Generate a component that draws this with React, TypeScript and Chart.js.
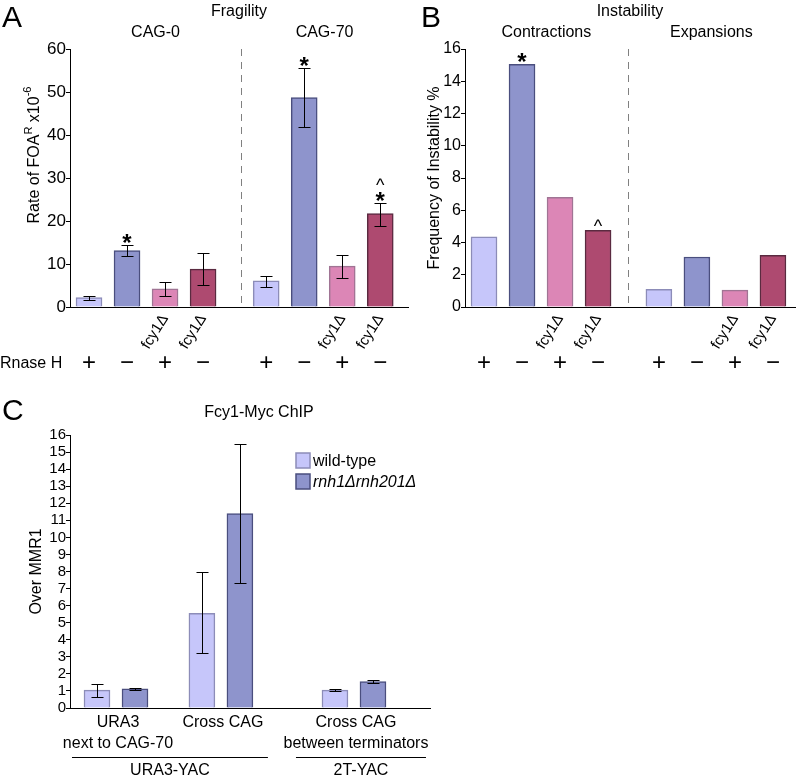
import React, { useEffect, useRef } from 'react';
import { Chart, registerables } from 'chart.js';

Chart.register(...registerables);

const FONT = '"Liberation Sans", Arial, Helvetica, sans-serif';

// ---------------- Panel A: Fragility ----------------
const fragilityGroups = ['CAG-0', 'CAG-70'];
const strainTags = ['', '', 'fcy1Δ', 'fcy1Δ'];
const rnaseHSigns = ['+', '−', '+', '−'];
const fragCag0 = [2.2, 13.1, 4.2, 8.8];
const fragCag0Low = [1.7, 11.8, 2.6, 5.1];
const fragCag0High = [2.6, 14.4, 5.8, 12.5];
const fragCag0Marks = ['', '*', '', ''];
const fragCag70 = [6.1, 48.7, 9.5, 21.7];
const fragCag70Low = [4.7, 41.8, 6.8, 18.9];
const fragCag70High = [7.2, 55.5, 12.0, 24.1];
const fragCag70Marks = ['', '*', '', '*^'];
const fragYTicks = { min: 0, max: 60, step: 10 };

// ---------------- Panel B: Instability ----------------
const instabilityGroups = ['Contractions', 'Expansions'];
const contractions = [4.35, 15.05, 6.8, 4.75];
const contractionMarks = ['', '*', '', '^'];
const expansions = [1.1, 3.1, 1.05, 3.2];
const expansionMarks = ['', '', '', ''];
const instYTicks = { min: 0, max: 16, step: 2 };

// ---------------- Panel C: Fcy1-Myc ChIP ----------------
const chipSites = [['URA3', 'next to CAG-70'], ['Cross CAG'], ['Cross CAG', 'between terminators']];
const chipYacs = ['URA3-YAC', '2T-YAC'];
const chipYacSites = [[0, 1], [2]];
const chipSeries = ['wild-type', 'rnh1Δrnh201Δ'];
const chipWildType = [1.05, 5.55, 1.05];
const chipWildTypeLow = [0.65, 3.2, 0.98];
const chipWildTypeHigh = [1.42, 7.95, 1.1];
const chipRnh = [1.12, 11.4, 1.55];
const chipRnhLow = [1.07, 7.3, 1.48];
const chipRnhHigh = [1.16, 15.45, 1.65];
const chipYTicks = { min: 0, max: 16, step: 1 };

// ---------------- styles / layout ----------------
const STRAIN_FILL = ['#c6c6fa', '#8e94cc', '#dc86b6', '#ae4a70'];
const STRAIN_EDGE = ['#8c8cb8', '#4a4e7e', '#a07494', '#5a2a40'];
const A_GROUP_STEP = 4.66;
const A_DIVIDER = 4.0;
const B_GROUP_STEP = 4.6;
const B_DIVIDER = 3.78;
const C_SITE_OFFSETS = [0, 2.76, 6.26];

function txt(ctx: any, s: string, x: number, y: number, size: number, align: string = 'center', o: any = {}) {
  ctx.save();
  ctx.font = `${o.italic ? 'italic ' : ''}${o.bold ? 'bold ' : ''}${size}px ${FONT}`;
  ctx.fillStyle = '#000';
  ctx.textAlign = align;
  ctx.textBaseline = o.baseline || 'alphabetic';
  ctx.translate(x, y);
  if (o.rotate) ctx.rotate(o.rotate);
  ctx.fillText(s, 0, 0);
  ctx.restore();
}

function richVertical(ctx: any, parts: any[], cx: number, cy: number) {
  ctx.save();
  ctx.translate(cx, cy);
  ctx.rotate(-Math.PI / 2);
  ctx.fillStyle = '#000';
  ctx.textBaseline = 'alphabetic';
  ctx.textAlign = 'left';
  let total = 0;
  const widths = parts.map((p) => {
    ctx.font = `${p.size}px ${FONT}`;
    const w = ctx.measureText(p.t).width;
    total += w;
    return w;
  });
  let x = -total / 2;
  const base = 0.36 * 16;
  parts.forEach((p, i) => {
    ctx.font = `${p.size}px ${FONT}`;
    ctx.fillText(p.t, x, base + (p.dy || 0));
    x += widths[i];
  });
  ctx.restore();
}

function dashedDivider(chart: any, value: number) {
  const ctx = chart.ctx;
  const x = Math.round(chart.scales.x.getPixelForValue(value)) + 0.5;
  ctx.save();
  ctx.strokeStyle = '#808080';
  ctx.lineWidth = 1;
  ctx.setLineDash([7, 6]);
  ctx.beginPath();
  ctx.moveTo(x, chart.chartArea.top);
  ctx.lineTo(x, chart.chartArea.bottom);
  ctx.stroke();
  ctx.restore();
}

const errorBarPlugin = {
  id: 'errorBars',
  afterDatasetsDraw(chart: any) {
    const ctx = chart.ctx;
    const ys = chart.scales.y;
    ctx.save();
    ctx.strokeStyle = '#000';
    ctx.lineWidth = 1;
    chart.data.datasets.forEach((ds: any, di: number) => {
      const meta = chart.getDatasetMeta(di);
      meta.data.forEach((bar: any, i: number) => {
        const cx = Math.round(bar.x) + 0.5;
        let top = bar.y;
        if (ds.errLow && ds.errHigh) {
          const yl = Math.round(ys.getPixelForValue(ds.errLow[i])) + 0.5;
          const yh = Math.round(ys.getPixelForValue(ds.errHigh[i])) + 0.5;
          ctx.beginPath();
          ctx.moveTo(cx, yl);
          ctx.lineTo(cx, yh);
          ctx.moveTo(cx - 6, yl);
          ctx.lineTo(cx + 6, yl);
          ctx.moveTo(cx - 6, yh);
          ctx.lineTo(cx + 6, yh);
          ctx.stroke();
          top = Math.min(top, yh);
        }
        const marks = (ds.marks && ds.marks[i]) || '';
        let cy = top - 8;
        for (const m of marks) {
          if (m === '*') {
            txt(ctx, '*', bar.x, cy + 0.56 * 24, 24, 'center', { bold: true });
            cy -= 14;
          } else {
            txt(ctx, '^', bar.x, cy + 0.53 * 18, 18, 'center');
            cy -= 12;
          }
        }
      });
    });
    ctx.restore();
  },
};

function baseOptions(o: any) {
  return {
    responsive: false,
    animation: false,
    devicePixelRatio: 1,
    events: [],
    layout: { padding: o.padding },
    plugins: { legend: { display: false }, tooltip: { enabled: false }, title: { display: false } },
    scales: {
      x: {
        type: 'linear',
        offset: false,
        bounds: 'ticks',
        min: o.xMin,
        max: o.xMax,
        ticks: { display: false },
        grid: { display: false, drawTicks: false, offset: false },
        border: { display: true, color: '#000', width: 1 },
        afterFit: (s: any) => {
          s.height = 0;
        },
      },
      y: {
        min: o.yTicks.min,
        max: o.yTicks.max,
        ticks: {
          stepSize: o.yTicks.step,
          autoSkip: false,
          color: '#000',
          padding: 0,
          font: { family: FONT, size: o.tickSize },
        },
        grid: { drawOnChartArea: false, drawTicks: true, tickLength: 4, color: '#000' },
        border: { display: true, color: '#000', width: 1 },
        afterFit: (s: any) => {
          s.width = o.yWidth;
        },
      },
    },
  };
}

function strainDatasets(groupVals: number[][], groupLow: number[][] | null, groupHigh: number[][] | null, groupMarks: string[][], step: number) {
  return strainTags.map((_, s) => ({
    data: groupVals.map((vals, g) => ({ x: g * step + s, y: vals[s] })),
    errLow: groupLow ? groupLow.map((v) => v[s]) : null,
    errHigh: groupHigh ? groupHigh.map((v) => v[s]) : null,
    marks: groupMarks.map((v) => v[s]),
    backgroundColor: STRAIN_FILL[s],
    borderColor: STRAIN_EDGE[s],
    borderWidth: 1.5,
    barThickness: 26,
    grouped: false,
  }));
}

function drawStrainRows(chart: any, step: number, signY: number) {
  const ctx = chart.ctx;
  const xs = chart.scales.x;
  [0, 1].forEach((g) => {
    strainTags.forEach((tag, s) => {
      const cx = xs.getPixelForValue(g * step + s);
      if (tag) txt(ctx, tag, cx, 316, 15, 'right', { baseline: 'middle', rotate: (-58 * Math.PI) / 180 });
      txt(ctx, rnaseHSigns[s], cx, signY, 24, 'center');
    });
  });
}

function buildA(canvas: HTMLCanvasElement) {
  const textPlugin = {
    id: 'panelAText',
    beforeDatasetsDraw(chart: any) {
      dashedDivider(chart, A_DIVIDER);
    },
    afterDraw(chart: any) {
      const ctx = chart.ctx;
      const xs = chart.scales.x;
      const area = chart.chartArea;
      txt(ctx, 'A', 2, 27, 30, 'left');
      txt(ctx, 'Fragility', (area.left + area.right) / 2, 16, 16);
      const div = xs.getPixelForValue(A_DIVIDER);
      txt(ctx, fragilityGroups[0], (area.left + div) / 2, 37, 16);
      txt(ctx, fragilityGroups[1], (div + area.right) / 2, 37, 16);
      richVertical(
        ctx,
        [
          { t: 'Rate of FOA', size: 16 },
          { t: 'R', size: 11, dy: -7 },
          { t: ' x10', size: 16 },
          { t: '-6', size: 11, dy: -8 },
        ],
        33,
        155
      );
      drawStrainRows(chart, A_GROUP_STEP, 370);
      txt(ctx, 'Rnase H', 0, 368, 16, 'left');
    },
  };
  return new Chart(canvas, {
    type: 'bar',
    data: {
      datasets: strainDatasets(
        [fragCag0, fragCag70],
        [fragCag0Low, fragCag70Low],
        [fragCag0High, fragCag70High],
        [fragCag0Marks, fragCag70Marks],
        A_GROUP_STEP
      ) as any,
    },
    options: baseOptions({
      padding: { left: 0, right: 2, top: 49, bottom: 68 },
      xMin: -0.5,
      xMax: 8.39,
      yTicks: fragYTicks,
      tickSize: 17,
      yWidth: 70,
    }) as any,
    plugins: [errorBarPlugin, textPlugin],
  });
}

function buildB(canvas: HTMLCanvasElement) {
  const textPlugin = {
    id: 'panelBText',
    beforeDatasetsDraw(chart: any) {
      dashedDivider(chart, B_DIVIDER);
    },
    afterDraw(chart: any) {
      const ctx = chart.ctx;
      const xs = chart.scales.x;
      const area = chart.chartArea;
      txt(ctx, 'B', 21, 27, 30, 'left');
      txt(ctx, 'Instability', (area.left + area.right) / 2, 16, 16);
      const div = xs.getPixelForValue(B_DIVIDER);
      txt(ctx, instabilityGroups[0], (area.left + div) / 2, 37, 16);
      txt(ctx, instabilityGroups[1], (div + area.right) / 2, 37, 16);
      richVertical(ctx, [{ t: 'Frequency of Instability %', size: 16 }], 33, (area.top + area.bottom) / 2);
      drawStrainRows(chart, B_GROUP_STEP, 370);
    },
  };
  return new Chart(canvas, {
    type: 'bar',
    data: {
      datasets: strainDatasets([contractions, expansions], null, null, [contractionMarks, expansionMarks], B_GROUP_STEP) as any,
    },
    options: baseOptions({
      padding: { left: 0, right: 5, top: 49, bottom: 68 },
      xMin: -0.5,
      xMax: 8.18,
      yTicks: instYTicks,
      tickSize: 16,
      yWidth: 65,
    }) as any,
    plugins: [errorBarPlugin, textPlugin],
  });
}

function buildC(canvas: HTMLCanvasElement) {
  const seriesVals = [chipWildType, chipRnh];
  const seriesLow = [chipWildTypeLow, chipRnhLow];
  const seriesHigh = [chipWildTypeHigh, chipRnhHigh];
  const datasets = chipSeries.map((name, k) => ({
    label: name,
    data: chipSites.map((_, i) => ({ x: C_SITE_OFFSETS[i] + k, y: seriesVals[k][i] })),
    errLow: seriesLow[k],
    errHigh: seriesHigh[k],
    backgroundColor: STRAIN_FILL[k],
    borderColor: STRAIN_EDGE[k],
    borderWidth: 1.5,
    barThickness: 26,
    grouped: false,
  }));
  const textPlugin = {
    id: 'panelCText',
    afterDraw(chart: any) {
      const ctx = chart.ctx;
      const xs = chart.scales.x;
      const area = chart.chartArea;
      txt(ctx, 'C', 2, 45, 30, 'left');
      txt(ctx, 'Fcy1-Myc ChIP', 259, 42, 16);
      richVertical(ctx, [{ t: 'Over MMR1', size: 16 }], 35, (area.top + area.bottom) / 2);
      // legend
      chipSeries.forEach((name, k) => {
        const y0 = 78 + k * 21;
        ctx.save();
        ctx.fillStyle = STRAIN_FILL[k];
        ctx.strokeStyle = STRAIN_EDGE[k];
        ctx.lineWidth = 1.5;
        ctx.fillRect(296, y0, 14, 15);
        ctx.strokeRect(296, y0, 14, 15);
        ctx.restore();
        txt(ctx, name, 313, y0 + 7.5 + 5.8, 16, 'left', { italic: k === 1 });
      });
      // site labels
      const siteCenters = chipSites.map((_, i) => xs.getPixelForValue(C_SITE_OFFSETS[i] + 0.5));
      chipSites.forEach((lines, i) => {
        lines.forEach((l, j) => txt(ctx, l, siteCenters[i] + 2, 352 + j * 20.5, 16));
      });
      // YAC brackets
      const halfGroup = 58;
      chipYacs.forEach((name, gi) => {
        const sites = chipYacSites[gi];
        const x1 = siteCenters[sites[0]] - halfGroup + (gi === 0 ? 14 : 0);
        const x2 = siteCenters[sites[sites.length - 1]] + halfGroup + (gi === 0 ? -11 : 14);
        ctx.save();
        ctx.strokeStyle = '#000';
        ctx.lineWidth = 1;
        ctx.beginPath();
        ctx.moveTo(x1, 382.5);
        ctx.lineTo(x2, 382.5);
        ctx.stroke();
        ctx.restore();
        txt(ctx, name, (x1 + x2) / 2, 400, 16);
      });
    },
  };
  return new Chart(canvas, {
    type: 'bar',
    data: { datasets: datasets as any },
    options: baseOptions({
      padding: { left: 0, right: 10, top: 60, bottom: 72 },
      xMin: -0.71,
      xMax: 8.76,
      yTicks: chipYTicks,
      tickSize: 15,
      yWidth: 70,
    }) as any,
    plugins: [errorBarPlugin, textPlugin],
  });
}

function ChartCanvas(props: { left: number; top: number; width: number; height: number; build: (c: HTMLCanvasElement) => Chart }) {
  const ref = useRef<HTMLCanvasElement>(null);
  useEffect(() => {
    const chart = props.build(ref.current as HTMLCanvasElement);
    return () => chart.destroy();
  }, []);
  return (
    <canvas
      ref={ref}
      width={props.width}
      height={props.height}
      style={{ position: 'absolute', left: props.left, top: props.top, width: props.width, height: props.height }}
    />
  );
}

export default function App() {
  return (
    <div style={{ position: 'absolute', left: 0, top: 0, width: 800, height: 780, background: '#fff', overflow: 'hidden' }}>
      <ChartCanvas left={0} top={0} width={410} height={375} build={buildA} />
      <ChartCanvas left={400} top={0} width={400} height={375} build={buildB} />
      <ChartCanvas left={0} top={375} width={440} height={405} build={buildC} />
    </div>
  );
}
